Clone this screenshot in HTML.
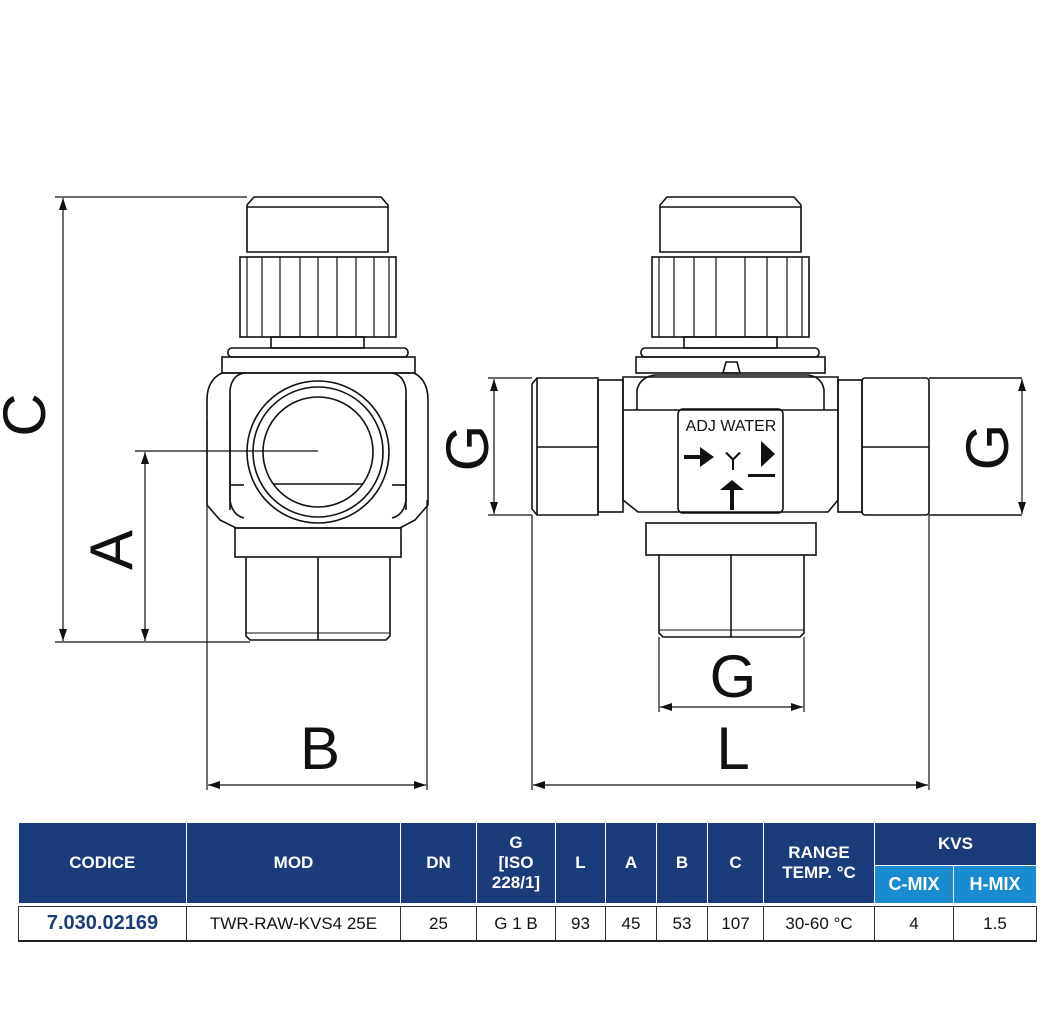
<!DOCTYPE html>
<html><head><meta charset="utf-8"><style>
html,body{margin:0;padding:0;background:#fff;}
body{width:1059px;height:1024px;overflow:hidden;position:relative;font-family:"Liberation Sans",sans-serif;}
svg{position:absolute;left:0;top:0;}
table{position:absolute;left:18px;top:823px;border-collapse:collapse;table-layout:fixed;width:1018px;font-family:"Liberation Sans Narrow","Liberation Sans",sans-serif;}
td{text-align:center;padding:0;overflow:hidden;}
.h{background:#1b3c7a;color:#fff;font-weight:bold;font-size:17px;border-right:1px solid #fff;line-height:20px;}
.s{background:#1a8bd0;color:#fff;font-weight:bold;font-size:18px;border-right:1px solid #fff;border-top:1px solid #fff;}
.d{font-size:17px;color:#111;border:1px solid #333;border-bottom:2px solid #222;height:33px;}
</style></head><body>
<svg width="1059" height="1024" viewBox="0 0 1059 1024" fill="none" stroke="#111" stroke-width="1.6">
<defs><marker id="ar" markerWidth="12" markerHeight="8" refX="12" refY="4" orient="auto-start-reverse" markerUnits="userSpaceOnUse"><path d="M0,0 L12,4 L0,8 Z" fill="#111" stroke="none"/></marker></defs>
<!-- LEFT VIEW -->
<path d="M247,252 L247,205 L254,197 L381,197 L388,205 L388,252 Z"/>
<line x1="247" y1="207" x2="388" y2="207"/>
<rect x="240" y="257" width="156" height="80"/>
<g stroke-width="1.2"><line x1="247" y1="257" x2="247" y2="337"/><line x1="262" y1="257" x2="262" y2="337"/><line x1="280" y1="257" x2="280" y2="337"/><line x1="300" y1="257" x2="300" y2="337"/><line x1="318" y1="257" x2="318" y2="337"/><line x1="337" y1="257" x2="337" y2="337"/><line x1="356" y1="257" x2="356" y2="337"/><line x1="374" y1="257" x2="374" y2="337"/><line x1="389" y1="257" x2="389" y2="337"/></g>
<rect x="271" y="337" width="93" height="11"/>
<rect x="228" y="348" width="180" height="9" rx="4"/>
<rect x="222" y="357" width="193" height="16"/>
<path d="M222,373 L414,373 Q428,380 428,400 L428,505 L415,520 L400,528 L236,528 L220,520 L207,505 L207,400 Q207,380 222,373 Z"/>
<path d="M244,373 Q232,375 230,390 L230,510"/><path d="M392,373 Q404,375 406,390 L406,510"/>
<path d="M230,400 L230,500 Q232,515 244,518"/><path d="M406,400 L406,500 Q404,515 392,518"/>
<line x1="230" y1="485" x2="244" y2="485"/><line x1="392" y1="485" x2="406" y2="485"/>
<circle cx="318" cy="452" r="71"/><circle cx="318" cy="452" r="65"/><circle cx="318" cy="452" r="55"/>
<line x1="273" y1="484" x2="363" y2="484"/>
<rect x="235" y="528" width="166" height="29"/>
<path d="M246,557 L246,636 L250,640 L386,640 L390,636 L390,557"/>
<line x1="318" y1="557" x2="318" y2="640"/><line x1="246" y1="633" x2="390" y2="633" stroke-width="1"/>
<!-- dims left -->
<line x1="55" y1="197" x2="247" y2="197" stroke-width="1.2"/>
<line x1="55" y1="642" x2="250" y2="642" stroke-width="1.2"/>
<line x1="63" y1="198" x2="63" y2="641" marker-start="url(#ar)" marker-end="url(#ar)" stroke-width="1.2"/>
<line x1="135" y1="451" x2="318" y2="451" stroke-width="1.2"/>
<line x1="145" y1="452" x2="145" y2="641" marker-start="url(#ar)" marker-end="url(#ar)" stroke-width="1.2"/>
<line x1="207" y1="420" x2="207" y2="790" stroke-width="1.2"/><line x1="427" y1="500" x2="427" y2="790" stroke-width="1.2"/>
<line x1="208" y1="785" x2="426" y2="785" marker-start="url(#ar)" marker-end="url(#ar)" stroke-width="1.2"/>
<!-- RIGHT VIEW -->
<path d="M660,252 L660,205 L667,197 L794,197 L801,205 L801,252 Z"/>
<line x1="660" y1="207" x2="801" y2="207"/>
<rect x="652" y="257" width="157" height="80"/>
<g stroke-width="1.2"><line x1="659" y1="257" x2="659" y2="337"/><line x1="674" y1="257" x2="674" y2="337"/><line x1="694" y1="257" x2="694" y2="337"/><line x1="716" y1="257" x2="716" y2="337"/><line x1="745" y1="257" x2="745" y2="337"/><line x1="767" y1="257" x2="767" y2="337"/><line x1="787" y1="257" x2="787" y2="337"/><line x1="802" y1="257" x2="802" y2="337"/></g>
<rect x="684" y="337" width="93" height="11"/>
<rect x="641" y="348" width="178" height="9" rx="4"/>
<rect x="636" y="357" width="189" height="16"/>
<path d="M723,373 L726,362 L737,362 L740,373 Z"/>
<path d="M623,377 L838,377 L838,500 L828,512 L638,512 L623,500 Z"/>
<path d="M637,410 L637,390 Q640,377 655,375 L808,375 Q822,377 824,390 L824,410"/>
<line x1="623" y1="410" x2="838" y2="410"/>
<rect x="678" y="409" width="105" height="104" rx="5"/>
<text x="731" y="431" font-size="16" fill="#111" stroke="none" text-anchor="middle" font-family="Liberation Sans">ADJ WATER</text>
<g fill="#111" stroke="none">
<rect x="684" y="455" width="16" height="4"/><path d="M700,447 L714,457 L700,467 Z"/>
<path d="M761,441 L775,454 L761,467 Z"/><rect x="748" y="474" width="27" height="3"/>
<path d="M720,490 L732,480 L744,490 Z"/><rect x="730" y="490" width="4" height="20"/>
<path d="M727,452 L733,458 L739,452 L741,453 L734,460 L734,470 L732,470 L732,460 L725,453 Z"/>
</g>
<rect x="646" y="523" width="170" height="32"/>
<path d="M659,555 L659,633 L663,637 L800,637 L804,633 L804,555"/>
<line x1="731" y1="555" x2="731" y2="637"/><line x1="659" y1="630" x2="804" y2="630" stroke-width="1"/>
<!-- pipes -->
<rect x="598" y="380" width="25" height="132"/>
<path d="M598,378 L537,378 L532,384 L532,509 L537,515 L598,515 Z"/><line x1="537" y1="378" x2="537" y2="515"/>
<line x1="537" y1="447" x2="598" y2="447"/>
<rect x="838" y="380" width="24" height="132"/>
<rect x="862" y="378" width="67" height="137" rx="3"/><line x1="862" y1="447" x2="929" y2="447"/>
<line x1="929" y1="378" x2="1022" y2="378"/><line x1="929" y1="515" x2="1022" y2="515"/>
<!-- dims right -->
<line x1="488" y1="378" x2="532" y2="378" stroke-width="1.2"/><line x1="488" y1="515" x2="532" y2="515" stroke-width="1.2"/>
<line x1="494" y1="379" x2="494" y2="514" marker-start="url(#ar)" marker-end="url(#ar)" stroke-width="1.2"/>
<line x1="1022" y1="379" x2="1022" y2="514" marker-start="url(#ar)" marker-end="url(#ar)" stroke-width="1.2"/>
<line x1="532" y1="515" x2="532" y2="790" stroke-width="1.2"/><line x1="929" y1="515" x2="929" y2="790" stroke-width="1.2"/>
<line x1="533" y1="785" x2="928" y2="785" marker-start="url(#ar)" marker-end="url(#ar)" stroke-width="1.2"/>
<line x1="659" y1="637" x2="659" y2="712" stroke-width="1.2"/><line x1="804" y1="637" x2="804" y2="712" stroke-width="1.2"/>
<line x1="660" y1="707" x2="803" y2="707" marker-start="url(#ar)" marker-end="url(#ar)" stroke-width="1.2"/>
<g fill="#111" stroke="none" font-family="Liberation Sans" font-size="60">
<text x="45" y="415" transform="rotate(-90 45 415)" text-anchor="middle">C</text>
<text x="132" y="550" transform="rotate(-90 132 550)" text-anchor="middle">A</text>
<text x="320" y="769" text-anchor="middle">B</text>
<text x="733" y="697" text-anchor="middle">G</text>
<text x="733" y="769" text-anchor="middle">L</text>
<text x="488" y="448" transform="rotate(-90 488 448)" text-anchor="middle">G</text>
<text x="1008" y="447" transform="rotate(-90 1008 447)" text-anchor="middle">G</text>
</g>
</svg>
<table>
<colgroup><col style="width:168px"><col style="width:214px"><col style="width:76px"><col style="width:79px"><col style="width:50px"><col style="width:51px"><col style="width:51px"><col style="width:56px"><col style="width:111px"><col style="width:79px"><col style="width:83px"></colgroup>
<tr style="height:42px">
<td class="h" rowspan="2">CODICE</td>
<td class="h" rowspan="2">MOD</td>
<td class="h" rowspan="2">DN</td>
<td class="h" rowspan="2">G<br>[ISO<br>228/1]</td>
<td class="h" rowspan="2">L</td>
<td class="h" rowspan="2">A</td>
<td class="h" rowspan="2">B</td>
<td class="h" rowspan="2">C</td>
<td class="h" rowspan="2">RANGE<br>TEMP. °C</td>
<td class="h" colspan="2">KVS</td>
</tr>
<tr style="height:38px"><td class="s">C-MIX</td><td class="s">H-MIX</td></tr>
<tr><td style="height:3px" colspan="11"></td></tr>
<tr>
<td class="d" style="color:#1b3c7a;font-weight:bold;font-size:20px;font-family:'Liberation Sans',sans-serif">7.030.02169</td>
<td class="d">TWR-RAW-KVS4 25E</td><td class="d">25</td><td class="d">G 1 B</td><td class="d">93</td><td class="d">45</td><td class="d">53</td><td class="d">107</td><td class="d">30-60 °C</td><td class="d">4</td><td class="d">1.5</td>
</tr>
</table>
</body></html>
